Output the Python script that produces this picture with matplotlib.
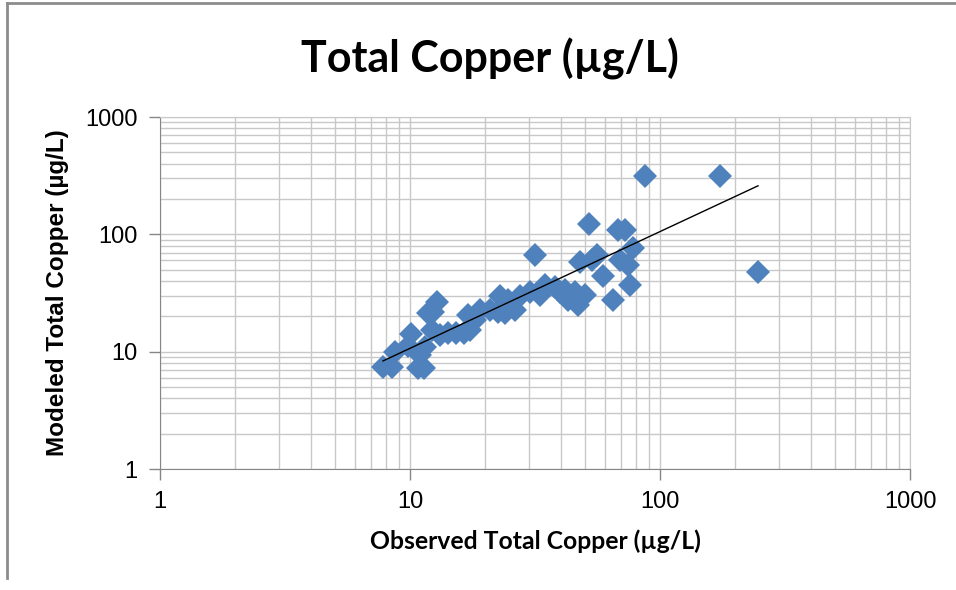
import numpy as np
import matplotlib
matplotlib.use("Agg")
import matplotlib.pyplot as plt
from matplotlib.ticker import FuncFormatter, NullFormatter
from matplotlib.lines import Line2D

# observed vs modeled total copper (ug/L)
observed = [7.8, 8.5, 8.7, 9.8, 10.1, 10.8, 11.4, 11.0, 11.5, 11.8,
            12.8, 12.4, 12.3, 13.2, 14.2, 15.3, 16.4, 17.4, 17.0, 18.2,
            19.1, 20.9, 22.5, 22.9, 24.7, 24.0, 26.3, 27.5, 30.2, 31.6,
            33.1, 34.7, 38.0, 39.8, 42.9, 41.7, 45.7, 47.0, 47.9, 50.1,
            52.0, 53.5, 56.0, 59.2, 64.9, 67.9, 72.4, 69.2, 74.5, 78.0,
            75.9, 87.1, 173.8, 246.6]
modeled = [7.4, 7.4, 9.9, 11.2, 14.2, 7.3, 7.3, 9.4, 11.0, 21.4,
           26.5, 21.8, 15.3, 14.0, 14.4, 14.4, 14.4, 15.3, 20.6, 18.6,
           22.7, 22.7, 21.8, 29.8, 27.6, 21.4, 22.7, 29.8, 32.3, 66.7,
           30.5, 37.0, 35.6, 32.3, 27.6, 33.6, 32.3, 25.0, 58.2, 30.4,
           122.6, 60.5, 66.7, 44.2, 27.6, 109.0, 109.0, 60.5, 54.8, 76.5,
           37.0, 315.0, 315.0, 47.8]

# power trendline y = a * x^b as drawn on the chart
trend_coef = 1.08
trend_exp = 0.995

ticks = [1, 10, 100, 1000]
grid_col = "#c8c8c8"
axis_col = "#868686"

fig = plt.figure(figsize=(9.56, 5.90), dpi=100)
ax = fig.add_axes([160 / 956, 1 - 469 / 590, 750 / 956, 352 / 590])

ax.set_xscale("log")
ax.set_yscale("log")
ax.set_xlim(1, 1000)
ax.set_ylim(1, 1000)

ax.grid(True, which="both", color=grid_col, linewidth=1.0)
ax.set_axisbelow(True)

ax.plot(observed, modeled, linestyle="none", marker="D", markersize=12.5,
        color="#4f81bd", markeredgewidth=0, zorder=3)

xs = np.array([min(observed), max(observed)])
ax.plot(xs, trend_coef * xs ** trend_exp, color="black", linewidth=1.0, zorder=4)

fmt = FuncFormatter(lambda v, p: f"{v:g}")
ax.set_xticks(ticks)
ax.set_yticks(ticks)
ax.xaxis.set_major_formatter(fmt)
ax.yaxis.set_major_formatter(fmt)
ax.xaxis.set_minor_formatter(NullFormatter())
ax.yaxis.set_minor_formatter(NullFormatter())

ax.tick_params(which="major", length=8, width=1, color=axis_col,
               labelsize=17, pad=8)
ax.tick_params(which="minor", length=0)
for lab in ax.get_xticklabels() + ax.get_yticklabels():
    lab.set_family("Liberation Sans")

for s in ["left", "bottom"]:
    ax.spines[s].set_color(axis_col)
for s in ["top", "right"]:
    ax.spines[s].set_color(grid_col)

ax.set_xlabel("Observed Total Copper (µg/L)", fontsize=17.8, fontweight="bold",
              family="Lato", labelpad=12)
ax.set_ylabel("Modeled Total Copper (µg/L)", fontsize=17.5, fontweight="bold",
              family="Liberation Sans", labelpad=12)

fig.text(0.513, 0.9, "Total Copper (µg/L)", ha="center", va="center",
         fontsize=31, fontweight="bold", family="Lato")

# chart frame edges visible in the crop
fig.add_artist(Line2D([7 / 956, 7 / 956], [0.02, 0.995], color="#8c8c8c",
                      linewidth=2, transform=fig.transFigure))
fig.add_artist(Line2D([7 / 956, 1], [0.995, 0.995], color="#8c8c8c",
                      linewidth=2, transform=fig.transFigure))

fig.savefig("out.png", dpi=100)
